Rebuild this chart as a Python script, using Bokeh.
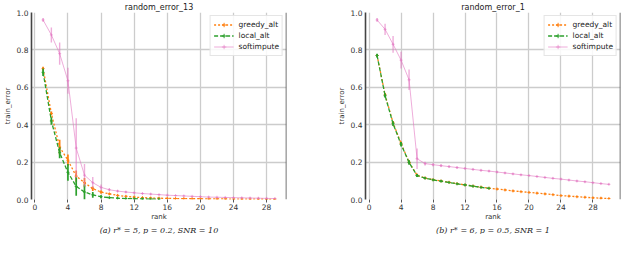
from bokeh.plotting import figure
from bokeh.models import (ColumnDataSource, Legend, LegendItem, Title, Span,
                          FixedTicker, Range1d, PrintfTickFormatter)
from bokeh.layouts import row
from bokeh.embed import file_html
from bokeh.resources import INLINE

# ---------------- data: panel (a) random_error_13 ----------------
ranks_13 = list(range(1, 30))
ranks_13_local = list(range(1, 16))
greedy_13 = [0.70, 0.46, 0.28, 0.21, 0.125, 0.09, 0.058, 0.04, 0.03, 0.022,
             0.017, 0.013, 0.010, 0.008, 0.007, 0.006, 0.005, 0.005, 0.004, 0.004,
             0.003, 0.003, 0.003, 0.002, 0.002, 0.002, 0.002, 0.001, 0.001]
greedy_13_err = [0.01, 0.01, 0.04, 0.03, 0.03, 0.025, 0.012, 0.008, 0.005, 0.004,
                 0.003, 0.003, 0.002, 0.002, 0.002, 0.002, 0.001, 0.001, 0.001, 0.001,
                 0.001, 0.001, 0.001, 0.001, 0.001, 0.001, 0.001, 0.001, 0.001]
local_13 = [0.68, 0.42, 0.25, 0.145, 0.07, 0.04, 0.025, 0.015, 0.010, 0.007,
            0.005, 0.004, 0.003, 0.002, 0.002]
local_13_err = [0.02, 0.02, 0.03, 0.045, 0.05, 0.04, 0.015, 0.008, 0.005, 0.003,
                0.002, 0.002, 0.001, 0.001, 0.001]
soft_13 = [0.96, 0.88, 0.78, 0.635, 0.275, 0.13, 0.09, 0.065, 0.052, 0.045,
           0.040, 0.036, 0.032, 0.029, 0.026, 0.023, 0.021, 0.019, 0.017, 0.015,
           0.013, 0.012, 0.011, 0.010, 0.009, 0.008, 0.007, 0.006, 0.005]
soft_13_err = [0.01, 0.04, 0.06, 0.07, 0.16, 0.06, 0.03, 0.015, 0.008, 0.006,
               0.005, 0.004, 0.004, 0.003, 0.003, 0.003, 0.002, 0.002, 0.002, 0.002,
               0.002, 0.002, 0.002, 0.001, 0.001, 0.001, 0.001, 0.001, 0.001]

# ---------------- data: panel (b) random_error_1 ----------------
ranks_1 = list(range(1, 31))
ranks_1_local = list(range(1, 16))
greedy_1 = [0.77, 0.56, 0.41, 0.30, 0.20, 0.13, 0.115, 0.106, 0.099, 0.092,
            0.085, 0.078, 0.072, 0.066, 0.060, 0.056, 0.051, 0.046, 0.042, 0.038,
            0.034, 0.030, 0.026, 0.021, 0.018, 0.015, 0.012, 0.009, 0.007, 0.005]
greedy_1_err = [0.005, 0.01, 0.01, 0.01, 0.01, 0.008, 0.004, 0.003, 0.003, 0.003,
                0.002, 0.002, 0.002, 0.002, 0.002, 0.002, 0.002, 0.002, 0.002, 0.002,
                0.002, 0.002, 0.002, 0.002, 0.002, 0.002, 0.002, 0.002, 0.002, 0.002]
local_1 = [0.77, 0.555, 0.405, 0.295, 0.198, 0.128, 0.114, 0.105, 0.098, 0.091,
           0.084, 0.078, 0.071, 0.065, 0.060]
local_1_err = [0.01, 0.01, 0.012, 0.012, 0.012, 0.008, 0.004, 0.004, 0.003, 0.003,
               0.003, 0.003, 0.003, 0.002, 0.002]
soft_1 = [0.96, 0.91, 0.83, 0.745, 0.64, 0.218, 0.192, 0.186, 0.181, 0.176,
          0.171, 0.166, 0.161, 0.156, 0.152, 0.147, 0.142, 0.137, 0.132, 0.128,
          0.123, 0.118, 0.113, 0.109, 0.104, 0.099, 0.095, 0.090, 0.085, 0.081]
soft_1_err = [0.01, 0.03, 0.045, 0.045, 0.055, 0.055, 0.01, 0.008, 0.007, 0.006,
              0.006, 0.005, 0.005, 0.005, 0.005, 0.005, 0.004, 0.004, 0.004, 0.004,
              0.004, 0.004, 0.004, 0.004, 0.004, 0.004, 0.004, 0.004, 0.004, 0.004]

x_ticks = [0, 4, 8, 12, 16, 20, 24, 28]
y_ticks = [0.0, 0.2, 0.4, 0.6, 0.8, 1.0]
series_colors = ["#ff7f0e", "#2ca02c", "#e377c2"]
series_dash = ["2 2", "4 2", "solid"]
series_alpha = [1.0, 1.0, 0.6]

FONT = "DejaVu Sans"


def make_panel(title, caption, x_start, x_end, series, width, b_left, b_right):
    p = figure(width=width, height=234, output_backend="svg", toolbar_location=None,
               x_range=Range1d(x_start, x_end), y_range=Range1d(0, 1),
               min_border_left=b_left, min_border_right=b_right,
               min_border_top=2, min_border_bottom=0,
               background_fill_color="white", border_fill_color="white")
    p.outline_line_color = None
    p.title.text = title
    p.title.align = "center"
    p.title.text_font = FONT
    p.title.text_font_size = "8px"
    p.title.text_font_style = "normal"
    p.title.text_color = "#222222"
    p.title.standoff = 1

    p.xaxis.ticker = FixedTicker(ticks=x_ticks)
    p.yaxis.ticker = FixedTicker(ticks=y_ticks)
    p.yaxis.formatter = PrintfTickFormatter(format="%.1f")
    for ax in (p.xaxis[0], p.yaxis[0]):
        ax.major_label_text_font = FONT
        ax.major_label_text_font_size = "7.5px"
        ax.major_label_text_color = "#333333"
        ax.axis_label_text_font = FONT
        ax.axis_label_text_font_size = "7px"
        ax.axis_label_text_font_style = "normal"
        ax.axis_label_text_color = "#333333"
        ax.minor_tick_line_color = None
        ax.major_tick_in = 0
        ax.major_label_standoff = 1
        ax.axis_label_standoff = 0
    p.xaxis.axis_label = "rank"
    p.yaxis.axis_label = "train_error"
    p.yaxis.major_label_standoff = 3
    p.yaxis.axis_label_standoff = 2
    p.xaxis.axis_line_color = None
    p.xaxis.major_tick_out = 3
    p.xaxis.major_tick_line_color = "#555555"
    p.yaxis.major_tick_out = 0
    p.yaxis.axis_line_color = "#444444"
    p.yaxis.axis_line_width = 1.6

    p.add_layout(Span(location=x_end, dimension="height", line_color="#555555",
                      line_width=1.6))

    p.xgrid.grid_line_color = "#cccccc"
    p.ygrid.grid_line_color = "#cccccc"
    p.xgrid.grid_line_width = 1.3
    p.ygrid.grid_line_width = 1.3

    items = []
    for (name, xs, ys, es), color, dash, alpha in zip(series, series_colors,
                                                        series_dash, series_alpha):
        src = ColumnDataSource(dict(
            x=xs, y=ys,
            lo=[y - e for y, e in zip(ys, es)],
            hi=[y + e for y, e in zip(ys, es)]))
        lw = 1.0 if name == "softimpute" else 1.3
        p.segment(x0="x", y0="lo", x1="x", y1="hi", source=src, line_color=color,
                  line_alpha=alpha, line_width=lw + 0.4)
        ln = p.line("x", "y", source=src, line_color=color, line_dash=dash,
                    line_width=lw, line_alpha=alpha)
        mk = p.scatter("x", "y", source=src, marker="cross", size=3,
                       line_color=color, line_alpha=alpha, line_width=1.0)
        items.append(LegendItem(label=name, renderers=[ln, mk]))

    legend = Legend(items=items, location="top_right",
                    label_text_font=FONT, label_text_font_size="7.5px",
                    label_text_color="#222222",
                    glyph_width=20, glyph_height=11, label_height=9,
                    spacing=0, padding=3, margin=3, label_standoff=5,
                    border_line_color="#cccccc", border_line_width=1,
                    background_fill_alpha=0.85)
    p.add_layout(legend)

    cap = Title(text=caption, align="center", text_font="DejaVu Serif",
                text_font_style="italic", text_font_size="8px",
                text_color="#222222", standoff=0)
    p.add_layout(cap, "below")
    return p


p1 = make_panel("random_error_13", "(a) r* = 5, p = 0.2, SNR = 10", -0.4, 30.4,
                [("greedy_alt", ranks_13, greedy_13, greedy_13_err),
                 ("local_alt", ranks_13_local, local_13, local_13_err),
                 ("softimpute", ranks_13, soft_13, soft_13_err)],
                width=312, b_left=28, b_right=26)
p2 = make_panel("random_error_1", "(b) r* = 6, p = 0.5, SNR = 1", -0.45, 31.45,
                [("greedy_alt", ranks_1, greedy_1, greedy_1_err),
                 ("local_alt", ranks_1_local, local_1, local_1_err),
                 ("softimpute", ranks_1, soft_1, soft_1_err)],
                width=310, b_left=53, b_right=2)

layout = row(p1, p2)
open("out.html", "w").write(file_html(layout, INLINE))
